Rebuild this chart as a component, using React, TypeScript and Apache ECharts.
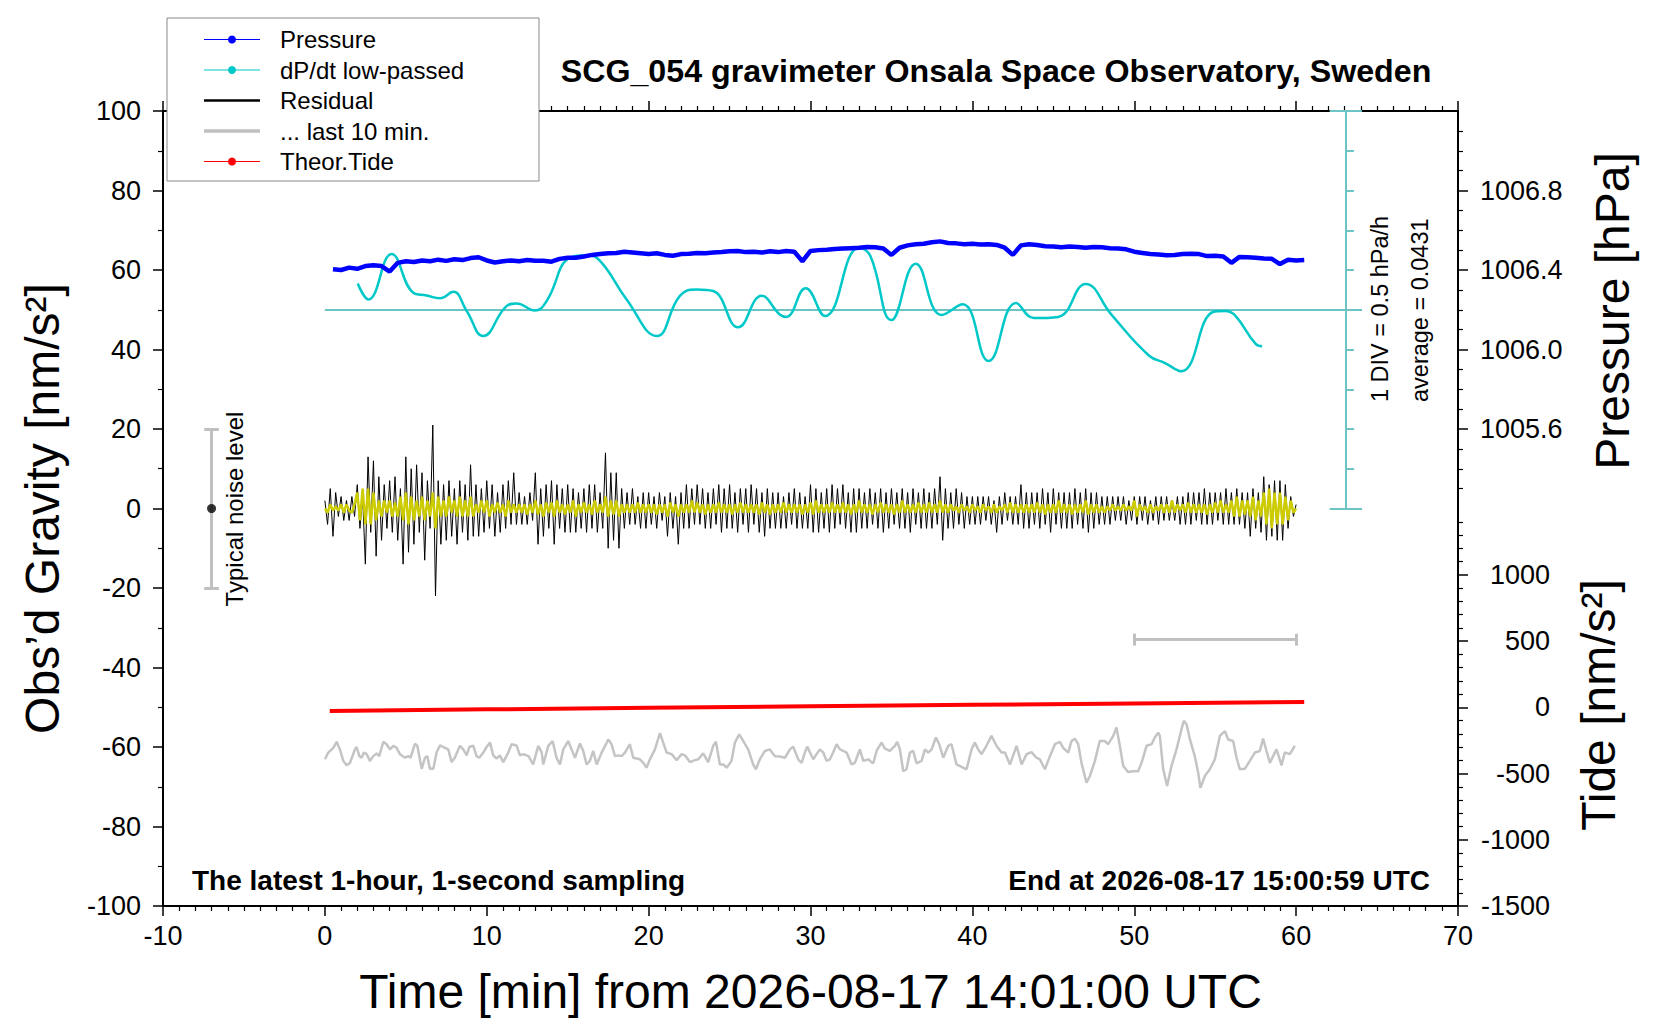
import React, { useEffect, useRef } from 'react';
import * as echarts from 'echarts';

// ---- axis ranges / tick labels ----
const timeRange = [-10, 70];
const gravityRange = [-100, 100];
const pressureRange = [1003.2, 1007.2]; // hPa, same scale as gravity axis
const pressureLabels = [1005.6, 1006.0, 1006.4, 1006.8];
const pressureMinorTicks = [1005.3, 1005.4, 1005.5, 1005.7, 1005.8, 1005.9, 1006.1, 1006.2, 1006.3, 1006.5, 1006.6, 1006.7, 1006.9, 1007.0, 1007.1];
const tideRange = [-1500, 4500]; // nm/s^2
const tideLabels = [-1500, -1000, -500, 0, 500, 1000];
const tideMinorTicks = [-1400, -1300, -1200, -1100, -900, -800, -700, -600, -400, -300, -200, -100, 100, 200, 300, 400, 600, 700, 800, 900, 1100, 1200, 1300, 1400];
const dpdtRange = [-7.5, 2.5]; // hPa/h, 1 DIV = 0.5 hPa/h
const dpdtDivs = [-2, -1.5, -1, -0.5, 0.5, 1, 1.5, 2];
const dpdtScaleTime = 63.07;

// ---- pressure (hPa), every 30 s from t = 0.5 min ----
const pressureStart = 0.5;
const pressureStep = 0.5;
const pressureHpa = [
  1006.404, 1006.400, 1006.412, 1006.406, 1006.420, 1006.424, 1006.420, 1006.392, 1006.436, 1006.444,
  1006.440, 1006.448, 1006.444, 1006.452, 1006.446, 1006.454, 1006.450, 1006.460, 1006.464, 1006.448,
  1006.438, 1006.444, 1006.448, 1006.444, 1006.450, 1006.446, 1006.446, 1006.442, 1006.456, 1006.462,
  1006.462, 1006.468, 1006.476, 1006.480, 1006.484, 1006.486, 1006.492, 1006.488, 1006.484, 1006.480,
  1006.484, 1006.476, 1006.472, 1006.480, 1006.482, 1006.486, 1006.484, 1006.488, 1006.490, 1006.494,
  1006.496, 1006.490, 1006.492, 1006.488, 1006.494, 1006.490, 1006.496, 1006.492, 1006.444, 1006.496,
  1006.500, 1006.502, 1006.506, 1006.508, 1006.510, 1006.512, 1006.516, 1006.514, 1006.508, 1006.476,
  1006.512, 1006.524, 1006.530, 1006.532, 1006.540, 1006.544, 1006.536, 1006.534, 1006.530, 1006.532,
  1006.528, 1006.530, 1006.526, 1006.512, 1006.476, 1006.524, 1006.530, 1006.526, 1006.520, 1006.518,
  1006.514, 1006.518, 1006.516, 1006.512, 1006.516, 1006.514, 1006.510, 1006.508, 1006.504, 1006.492,
  1006.486, 1006.480, 1006.478, 1006.474, 1006.476, 1006.480, 1006.482, 1006.480, 1006.470, 1006.472,
  1006.468, 1006.436, 1006.466, 1006.464, 1006.462, 1006.458, 1006.456, 1006.430, 1006.452, 1006.448,
  1006.450,
];

// ---- dP/dt low-passed (hPa/h) : [time min, value] ----
const dpdtLowPassed = [
  [2.03, 0.33], [2.69, 0.13], [4.12, 0.7], [5.46, 0.215], [6.28, 0.18], [7.11, 0.145], [7.93, 0.225],
  [8.76, -0.015], [9.78, -0.33], [11.22, 0.045], [11.84, 0.08], [12.97, -0.01], [13.7, 0.11], [15.14, 0.655],
  [16.17, 0.685], [17.0, 0.615], [18.64, 0.13], [20.5, -0.33], [21.93, 0.175], [22.96, 0.255], [23.99, 0.235],
  [25.53, -0.22], [26.98, 0.175], [28.1, -0.06], [28.5, -0.09], [29.7, 0.27], [30.9, -0.08], [33.0, 0.78],
  [33.7, 0.675], [35.0, -0.13], [36.5, 0.58], [38.1, -0.065], [39.4, 0.07], [41.0, -0.645], [42.7, 0.085],
  [43.8, -0.105], [45.3, -0.09], [47.0, 0.325], [48.6, -0.065], [50.9, -0.575], [51.9, -0.67], [52.9, -0.775],
  [54.9, -0.025], [55.6, -0.015], [56.2, -0.065], [57.5, -0.43], [57.9, -0.46],
];

// ---- residual gravity (nm/s^2), every 10 s from t = 0 ----
const residualStep = 1 / 6;
const residual = [
  2, -4, 5, -7, 4, -2, 3, -3, 2, -3, 3, -2, 6, -5, 3, -14, 13, -6, 12, -12, 8, -8, 6, -5,
  7, -6, 8, -8, 5, -14, 13, -11, 10, -9, 11, -6, 9, -13, 7, -5, 21, -22, 7, -9, 6, -8, 7, -7,
  5, -9, 7, -6, 6, -8, 11, -7, 6, -7, 5, -6, 7, -5, 6, -7, 4, -6, 6, -5, 7, -4, 9, -4,
  4, -4, 3, -4, 4, -3, 9, -9, 5, -7, 6, -5, 7, -9, 6, -5, 5, -6, 6, -6, 5, -6, 4, -5,
  5, -6, 6, -5, 6, -6, 4, -5, 14, -10, 9, -8, 9, -10, 5, -5, 4, -4, 5, -4, 3, -5, 4, -5,
  4, -4, 3, -5, 4, -3, 3, -7, 4, -5, 3, -9, 4, -5, 6, -5, 5, -4, 6, -4, 5, -5, 4, -5,
  5, -4, 6, -6, 5, -5, 6, -5, 4, -6, 5, -4, 5, -6, 6, -4, 5, -6, 4, -7, 5, -5, 4, -5,
  4, -5, 3, -5, 4, -4, 5, -5, 4, -5, 3, -5, 6, -6, 5, -6, 4, -5, 5, -6, 6, -5, 5, -4,
  6, -5, 4, -6, 5, -6, 5, -5, 4, -5, 5, -4, 4, -5, 5, -6, 4, -5, 5, -4, 4, -5, 5, -5,
  4, -6, 5, -4, 4, -5, 5, -5, 4, -5, 5, -4, 8, -8, 5, -5, 4, -5, 5, -4, 4, -5, 3, -4,
  3, -4, 3, -4, 3, -3, 3, -4, 2, -6, 3, -4, 4, -3, 3, -4, 3, -4, 6, -5, 4, -5, 4, -4,
  4, -5, 5, -4, 4, -6, 5, -4, 4, -5, 4, -5, 4, -5, 5, -4, 4, -5, 5, -6, 4, -5, 4, -4,
  3, -4, 3, -4, 3, -3, 3, -3, 3, -4, 2, -3, 3, -4, 3, -3, 3, -4, 2, -3, 3, -4, 3, -3,
  3, -3, 2, -3, 3, -4, 3, -4, 4, -4, 4, -3, 4, -4, 5, -4, 4, -4, 4, -3, 4, -4, 5, -4,
  4, -4, 5, -4, 4, -5, 4, -7, 5, -5, 4, -6, 8, -8, 6, -7, 7, -8, 7, -8, 6, -5, 3, -2,
  1,
];

// ---- filtered residual (yellow), every 10 s from t = 0 ----
const filtered = [
  0, -1, 1, -0.5, 0.5, -0.5, 1, -1, 1, -0.5, -1, 1, 4, -3, 5, -4, 5, -4, 4, -3, 2, -2, 2, -1,
  2, -2, 1.5, -2, 3, -3, 4, -4, 3, -3, 2, -2, 3, -3, 2, -2, 4, -5, 3, -2, 2, -2, 3, -1,
  2, -2, 3, -2, 2, -2, 3, -2, 1, -1, 2, -1, 2, -2, 1, -1, 1.5, -1, 1, -2, 2, -1, 1, -1,
  1, -1, 1, -1.5, 1, -1, 2, -1.5, 1, -2, 1.5, -1, 1.5, -2, 2, -1, 1, -1.5, 1, -1, 2, -2, 1, -1,
  1.5, -1, 1, -1.5, 2, -1, 1, -1, 3, -2, 2, -1.5, 2, -2, 1, -1, 1, -1, 1, -1, 1.5, -1, 1, -1,
  1, -1, 1, -1.5, 1, -1, 1, -2, 1.5, -1, 1, -2, 1, -1, 1, -1, 2, -1, 1.5, -1, 1, -1.5, 1, -1,
  1, -1, 1.5, -1, 1, -1, 1, -1.5, 1, -1, 1.5, -1, 1, -1, 1, -1, 1, -1.5, 1.5, -1, 1, -1.5, 1, -1,
  1, -1, 1.5, -1, 1, -1, 1, -1, 1, -1.5, 1, -1, 1.5, -1.5, 2, -1, 1, -1, 1, -1, 1.5, -1, 1, -1,
  1.5, -1, 1, -1.5, 1, -1, 2, -1, 1, -1, 1, -1.5, 1, -1, 1.5, -1, 1, -1, 1, -1.5, 1, -1, 2, -1,
  1, -1, 1, -1, 1.5, -1, 1, -1, 1.5, -1, 1, -1, 2, -1, 1, -1, 1, -0.5, 0.5, -1, 1, -0.5, 0.5, -1,
  1, -0.5, 0.5, -1, 1, -0.5, 0.5, -1, 1, -1, 0.5, -0.5, 1, -1, 1.5, -1, 1, -1, 1, -1, 1, -1, 1, -1,
  1.5, -1, 1, -1.5, 1, -1, 1, -1, 2, -1, 1, -1, 1, -1.5, 1, -1, 1, -1, 2, -1.5, 1, -1, 1, -1,
  0.5, -1, 0.5, -0.5, 1, -0.5, 0.5, -0.5, 1, -0.5, 0.5, -0.5, 2, -2, 1, -0.5, 0.5, -1, 1, -1, 0.5, -0.5, 1, -1,
  1, -1, 2, -1, 1, -0.5, 1, -1, 1.5, -1, 1, -1, 1, -1, 1, -1.5, 1, -1, 1.5, -1, 2, -1, 1, -1,
  2, -2, 3, -2, 2, -1.5, 2, -2, 3, -3, 2, -2, 4, -4, 5, -5, 4, -4, 4, -4, 3, -3, 2, -1,
  0,
];

// ---- last 10 min of residual, stretched over the hour and offset (plotted on gravity axis) ----
const lastTenMin = [
  [0.01, -63.1], [0.21, -61.4], [0.52, -60.2], [0.73, -58.7], [0.93, -60.6], [1.14, -63.5], [1.34, -64.6], [1.55, -64.0],
  [1.86, -60.6], [1.96, -60.0], [2.13, -62.3], [2.27, -62.7], [2.41, -61.4], [2.58, -61.8], [2.78, -63.5], [2.99, -62.3],
  [3.2, -61.6], [3.36, -62.3], [3.61, -58.7], [3.81, -59.3], [4.02, -60.6], [4.23, -59.7], [4.43, -60.2], [4.64, -61.8],
  [4.95, -62.7], [5.15, -62.3], [5.3, -62.7], [5.56, -59.2], [5.71, -59.7], [5.98, -65.5], [6.18, -62.7], [6.33, -62.3],
  [6.49, -65.5], [6.7, -65.5], [6.9, -61.4], [7.11, -59.6], [7.42, -60.2], [7.62, -60.6], [7.83, -63.8], [8.03, -62.7],
  [8.34, -59.7], [8.55, -60.6], [8.76, -62.1], [8.92, -60.0], [9.17, -59.7], [9.37, -62.3], [9.54, -62.7], [9.79, -61.4],
  [9.99, -60.0], [10.2, -58.9], [10.4, -62.1], [10.61, -62.9], [10.81, -62.1], [11.02, -63.8], [11.33, -61.4], [11.53, -59.3],
  [11.84, -59.6], [12.05, -62.1], [12.26, -61.8], [12.58, -62.3], [12.87, -64.4], [13.18, -59.7], [13.39, -61.3], [13.49, -64.4],
  [13.8, -59.7], [14.07, -58.5], [14.31, -62.7], [14.52, -64.4], [14.73, -60.6], [15.03, -58.5], [15.24, -60.6], [15.45, -62.7],
  [15.76, -59.1], [15.96, -61.0], [16.17, -64.4], [16.37, -63.5], [16.58, -61.0], [16.79, -64.4], [17.1, -61.4], [17.51, -58.1],
  [17.71, -59.3], [17.92, -62.3], [18.12, -62.1], [18.33, -62.3], [18.54, -61.4], [18.84, -59.3], [19.05, -62.7], [19.26, -62.9],
  [19.46, -63.1], [19.67, -64.0], [19.87, -65.2], [20.08, -63.1], [20.39, -60.6], [20.7, -56.5], [20.9, -58.9], [21.11, -61.4],
  [21.42, -61.8], [21.73, -63.3], [22.04, -61.8], [22.24, -62.1], [22.55, -63.8], [22.86, -63.3], [23.07, -63.1], [23.37, -61.6],
  [23.68, -63.8], [23.99, -59.7], [24.16, -58.7], [24.4, -64.4], [24.61, -64.4], [24.82, -65.2], [25.12, -63.5], [25.33, -58.9],
  [25.6, -56.8], [25.85, -58.5], [26.15, -60.6], [26.46, -64.4], [26.63, -65.6], [26.87, -63.1], [27.18, -61.0], [27.49, -60.6],
  [27.8, -62.3], [28.11, -62.4], [28.42, -62.7], [28.73, -60.6], [28.93, -59.9], [29.24, -63.1], [29.45, -64.0], [29.65, -61.4],
  [29.8, -59.9], [30.17, -63.1], [30.37, -61.8], [30.58, -60.6], [30.79, -61.4], [30.99, -63.5], [31.2, -63.1], [31.4, -61.4],
  [31.61, -59.3], [31.82, -60.6], [32.02, -61.0], [32.23, -61.4], [32.54, -64.4], [32.74, -64.0], [33.05, -60.6], [33.26, -63.5],
  [33.57, -63.1], [33.77, -63.8], [33.88, -64.1], [34.08, -61.0], [34.39, -58.9], [34.6, -60.4], [34.9, -61.0], [35.21, -59.7],
  [35.36, -58.7], [35.52, -60.6], [35.73, -66.1], [35.93, -65.6], [36.14, -61.4], [36.35, -61.0], [36.55, -64.1], [36.86, -63.5],
  [37.07, -60.6], [37.27, -61.4], [37.48, -60.6], [37.75, -57.6], [37.95, -59.3], [38.2, -62.7], [38.51, -59.7], [38.71, -59.3],
  [39.02, -64.4], [39.33, -65.0], [39.64, -65.6], [39.95, -60.6], [40.15, -58.9], [40.36, -60.6], [40.57, -61.8], [40.87, -59.7],
  [41.18, -57.2], [41.49, -59.7], [41.8, -61.4], [42.01, -61.4], [42.32, -64.4], [42.73, -59.7], [43.04, -64.4], [43.35, -61.8],
  [43.65, -61.3], [43.96, -62.7], [44.17, -63.1], [44.48, -65.6], [44.79, -62.3], [45.1, -59.3], [45.41, -58.7], [45.61, -60.2],
  [45.92, -61.4], [46.12, -58.5], [46.33, -57.9], [46.54, -59.3], [46.74, -64.0], [47.05, -69.0], [47.26, -67.3], [47.57, -63.5],
  [47.87, -58.5], [48.18, -58.5], [48.39, -59.3], [48.7, -57.2], [48.9, -55.1], [49.11, -59.7], [49.32, -64.8], [49.62, -66.3],
  [49.93, -66.1], [50.24, -66.1], [50.45, -64.0], [50.76, -59.7], [51.07, -59.3], [51.27, -57.6], [51.48, -56.4], [51.58, -57.2],
  [51.79, -65.6], [52.03, -69.8], [52.3, -64.8], [52.61, -60.6], [52.92, -55.5], [53.06, -53.4], [53.23, -54.3], [53.44, -58.1],
  [53.74, -62.3], [53.95, -66.5], [54.09, -70.3], [54.36, -67.3], [54.67, -65.6], [54.98, -63.1], [55.29, -57.2], [55.6, -56.0],
  [55.8, -58.1], [56.11, -58.5], [56.32, -62.7], [56.52, -65.6], [56.83, -65.5], [57.14, -63.5], [57.45, -61.4], [57.76, -61.0],
  [57.96, -57.9], [58.17, -61.0], [58.38, -64.0], [58.58, -62.3], [58.79, -60.6], [59.1, -64.6], [59.3, -61.4], [59.61, -61.8],
  [59.92, -59.7],
];

// ---- theoretical tide (nm/s^2) ----
const tideTimes = [0.3, 10, 20, 30, 40, 50, 60.5];
const tideValues = [-28, -16, -4, 7, 18, 29, 40];

// ---- annotation markers (gravity units / minutes) ----
const noiseBar = { time: -7, low: -20, high: 20, capHalf: 0.45 };
const windowBar = { from: 50, to: 60, level: -33, capHalf: 1.5 };

const FONT = "'Liberation Sans', Arial, Helvetica, sans-serif";

const legendItems = [
  { label: 'Pressure', color: '#0000ff', width: 1, dot: true },
  { label: 'dP/dt low-passed', color: '#00c8c8', width: 1, dot: true },
  { label: 'Residual', color: '#000000', width: 2.5, dot: false },
  { label: '... last 10 min.', color: '#c0c0c0', width: 3.5, dot: false },
  { label: 'Theor.Tide', color: '#ff0000', width: 1, dot: true },
];

const App: React.FC = () => {
  const chartRef = useRef<HTMLDivElement>(null);

  useEffect(() => {
    const chart = echarts.init(chartRef.current!, undefined, { renderer: 'svg' });

    const pressureData = pressureHpa.map((p, i) => [pressureStart + i * pressureStep, p]);
    const residualData = residual.map((v, i) => [i * residualStep, v]);
    const filteredData = filtered.map((v, i) => [i * residualStep, v]);
    const tideData = tideTimes.map((t, i) => [t, tideValues[i]]);

    const tickLen = 0.5;
    const capHalfT = 1.0;
    const scaleLines: any[] = [
      { coords: [[0, 0], [dpdtScaleTime + capHalfT, 0]] },
      { coords: [[dpdtScaleTime, dpdtRange[1] - 5], [dpdtScaleTime, dpdtRange[1]]] },
      { coords: [[dpdtScaleTime - capHalfT, dpdtRange[1]], [dpdtScaleTime + capHalfT, dpdtRange[1]]] },
      { coords: [[dpdtScaleTime - capHalfT, dpdtRange[1] - 5], [dpdtScaleTime + capHalfT, dpdtRange[1] - 5]] },
      ...dpdtDivs.map((d) => ({ coords: [[dpdtScaleTime, d], [dpdtScaleTime + tickLen, d]] })),
    ];

    const greyMarks: any[] = [
      { coords: [[noiseBar.time, noiseBar.low], [noiseBar.time, noiseBar.high]] },
      { coords: [[noiseBar.time - noiseBar.capHalf, noiseBar.low], [noiseBar.time + noiseBar.capHalf, noiseBar.low]] },
      { coords: [[noiseBar.time - noiseBar.capHalf, noiseBar.high], [noiseBar.time + noiseBar.capHalf, noiseBar.high]] },
      { coords: [[windowBar.from, windowBar.level], [windowBar.to, windowBar.level]] },
      { coords: [[windowBar.from, windowBar.level - windowBar.capHalf], [windowBar.from, windowBar.level + windowBar.capHalf]] },
      { coords: [[windowBar.to, windowBar.level - windowBar.capHalf], [windowBar.to, windowBar.level + windowBar.capHalf]] },
    ];

    const axisLineStyle = { onZero: false, lineStyle: { color: '#000', width: 2 } };
    const noLine = { show: false, onZero: false };
    const tickStyle = { lineStyle: { color: '#000', width: 1.5 } };
    const labelStyle = { color: '#000', fontSize: 27, fontFamily: FONT };

    const legendGraphics: any[] = [
      {
        type: 'rect',
        shape: { x: 167, y: 18, width: 372, height: 163 },
        style: { fill: '#fff', stroke: '#888', lineWidth: 1 },
        z: 100,
      },
    ];
    legendItems.forEach((it, i) => {
      const y = 39.5 + i * 30.5;
      legendGraphics.push({
        type: 'line',
        shape: { x1: 204, y1: y, x2: 260, y2: y },
        style: { stroke: it.color, lineWidth: it.width },
        z: 101,
      });
      if (it.dot) {
        legendGraphics.push({
          type: 'circle',
          shape: { cx: 232, cy: y, r: 4 },
          style: { fill: it.color },
          z: 102,
        });
      }
      legendGraphics.push({
        type: 'text',
        x: 280,
        y,
        style: { text: it.label, fontSize: 24, fontFamily: FONT, fill: '#000', align: 'left', verticalAlign: 'middle', textAlign: 'left', textVerticalAlign: 'middle' },
        z: 102,
      });
    });

    const txt = (text: string, x: number, y: number, size: number, opts: any = {}) => ({
      type: 'text',
      x,
      y,
      rotation: opts.rotation || 0,
      style: {
        text,
        fontSize: size,
        fontFamily: FONT,
        fontWeight: opts.bold ? 'bold' : 'normal',
        fill: '#000',
        align: opts.align || 'center',
        verticalAlign: 'middle',
        textAlign: opts.align || 'center',
        textVerticalAlign: 'middle',
      },
      z: 50,
    });

    const options: any = {
      animation: false,
      textStyle: { fontFamily: FONT },
      grid: {
        left: 163,
        right: 202,
        top: 111,
        bottom: 111,
        show: true,
        borderColor: '#000',
        borderWidth: 2,
        backgroundColor: 'transparent',
      },
      xAxis: [
        {
          type: 'value',
          position: 'bottom',
          min: timeRange[0],
          max: timeRange[1],
          interval: 10,
          axisLine: axisLineStyle,
          axisTick: { show: true, inside: false, length: 10, ...tickStyle },
          minorTick: { show: true, splitNumber: 10, length: 5, lineStyle: { color: '#000', width: 1.2 } },
          splitLine: { show: false },
          axisLabel: { ...labelStyle, margin: 16 },
          name: 'Time [min] from 2026-08-17 14:01:00 UTC',
          nameLocation: 'middle',
          nameGap: 61,
          nameTextStyle: { fontSize: 48, color: '#000', fontFamily: FONT },
        },
        {
          type: 'value',
          position: 'top',
          min: timeRange[0],
          max: timeRange[1],
          interval: 10,
          axisLine: axisLineStyle,
          axisTick: { show: true, inside: false, length: 10, ...tickStyle },
          minorTick: { show: true, splitNumber: 10, length: 5, lineStyle: { color: '#000', width: 1.2 } },
          splitLine: { show: false },
          axisLabel: { show: false },
        },
      ],
      yAxis: [
        {
          type: 'value',
          position: 'left',
          min: gravityRange[0],
          max: gravityRange[1],
          interval: 20,
          axisLine: axisLineStyle,
          axisTick: { show: true, inside: false, length: 10, ...tickStyle },
          minorTick: { show: true, splitNumber: 2, length: 5, lineStyle: { color: '#000', width: 1.2 } },
          splitLine: { show: false },
          axisLabel: { ...labelStyle, margin: 22 },
          name: 'Obs’d Gravity [nm/s²]',
          nameLocation: 'middle',
          nameGap: 97,
          nameTextStyle: { fontSize: 48, color: '#000', fontFamily: FONT },
        },
        {
          type: 'value',
          position: 'right',
          min: pressureRange[0],
          max: pressureRange[1],
          axisLine: axisLineStyle,
          axisTick: { show: true, inside: false, length: 10, customValues: pressureLabels, ...tickStyle },
          splitLine: { show: false },
          axisLabel: { ...labelStyle, margin: 22, customValues: pressureLabels, formatter: (v: number) => v.toFixed(1) },
        },
        {
          type: 'value',
          position: 'right',
          min: pressureRange[0],
          max: pressureRange[1],
          axisLine: noLine,
          axisTick: { show: true, inside: false, length: 5, customValues: pressureMinorTicks, lineStyle: { color: '#000', width: 1.2 } },
          splitLine: { show: false },
          axisLabel: { show: false },
        },
        {
          type: 'value',
          position: 'right',
          min: tideRange[0],
          max: tideRange[1],
          axisLine: noLine,
          axisTick: { show: true, inside: false, length: 10, customValues: tideLabels, ...tickStyle },
          splitLine: { show: false },
          axisLabel: { ...labelStyle, margin: 92, align: 'right', customValues: tideLabels, formatter: (v: number) => String(v) },
        },
        {
          type: 'value',
          position: 'right',
          min: tideRange[0],
          max: tideRange[1],
          axisLine: noLine,
          axisTick: { show: true, inside: false, length: 5, customValues: tideMinorTicks, lineStyle: { color: '#000', width: 1.2 } },
          splitLine: { show: false },
          axisLabel: { show: false },
        },
        {
          type: 'value',
          show: false,
          min: dpdtRange[0],
          max: dpdtRange[1],
          axisLine: noLine,
        },
      ],
      graphic: [
        ...legendGraphics,
        txt('SCG_054 gravimeter Onsala Space Observatory, Sweden', 996, 71, 32.2, { bold: true }),
        txt('The latest 1-hour, 1-second sampling', 192, 880, 28, { bold: true, align: 'left' }),
        txt('End at 2026-08-17 15:00:59 UTC', 1430, 880, 28, { bold: true, align: 'right' }),
        txt('1 DIV = 0.5 hPa/h', 1380, 402, 23.5, { align: 'left', rotation: Math.PI / 2 }),
        txt('average = 0.0431', 1420, 402, 23.5, { align: 'left', rotation: Math.PI / 2 }),
        txt('Typical noise level', 234, 509, 24, { rotation: Math.PI / 2 }),
        txt('Pressure [hPa]', 1612, 311, 48, { rotation: Math.PI / 2 }),
        txt('Tide [nm/s²]', 1598, 705, 48, { rotation: Math.PI / 2 }),
      ],
      series: [
        {
          name: 'dP/dt zero & scale',
          type: 'lines',
          coordinateSystem: 'cartesian2d',
          xAxisIndex: 0,
          yAxisIndex: 5,
          polyline: false,
          lineStyle: { color: '#6cc4c4', width: 2, opacity: 1 },
          data: scaleLines,
          silent: true,
          z: 2,
        },
        {
          name: 'marks',
          type: 'lines',
          coordinateSystem: 'cartesian2d',
          xAxisIndex: 0,
          yAxisIndex: 0,
          polyline: false,
          lineStyle: { color: '#c0c0c0', width: 3, opacity: 1 },
          data: greyMarks,
          silent: true,
          z: 2,
        },
        {
          name: 'noise centre',
          type: 'scatter',
          xAxisIndex: 0,
          yAxisIndex: 0,
          symbolSize: 9,
          itemStyle: { color: '#000' },
          data: [[noiseBar.time, 0]],
          z: 3,
        },
        {
          name: '... last 10 min.',
          type: 'line',
          xAxisIndex: 0,
          yAxisIndex: 0,
          showSymbol: false,
          lineStyle: { color: '#c4c4c4', width: 2.5 },
          data: lastTenMin,
          z: 3,
        },
        {
          name: 'Residual',
          type: 'line',
          xAxisIndex: 0,
          yAxisIndex: 0,
          showSymbol: false,
          lineStyle: { color: '#000', width: 1 },
          data: residualData,
          z: 4,
        },
        {
          name: 'Residual filtered',
          type: 'line',
          xAxisIndex: 0,
          yAxisIndex: 0,
          showSymbol: false,
          lineStyle: { color: '#cccc00', width: 2.5 },
          data: filteredData,
          z: 5,
        },
        {
          name: 'dP/dt low-passed',
          type: 'line',
          xAxisIndex: 0,
          yAxisIndex: 5,
          showSymbol: false,
          smooth: 0.45,
          lineStyle: { color: '#00c8c8', width: 2.5 },
          data: dpdtLowPassed,
          z: 5,
        },
        {
          name: 'Pressure',
          type: 'line',
          xAxisIndex: 0,
          yAxisIndex: 1,
          showSymbol: false,
          lineStyle: { color: '#0000ff', width: 4.5 },
          data: pressureData,
          z: 6,
        },
        {
          name: 'Theor.Tide',
          type: 'line',
          xAxisIndex: 0,
          yAxisIndex: 3,
          showSymbol: false,
          lineStyle: { color: '#ff0000', width: 4 },
          data: tideData,
          z: 6,
        },
      ],
    };

    chart.setOption(options);

    return () => {
      chart.dispose();
    };
  }, []);

  return (
    <div
      ref={chartRef}
      style={{ position: 'absolute', left: 0, top: 0, width: '1660px', height: '1020px', background: '#fff' }}
    />
  );
};

export default App;
